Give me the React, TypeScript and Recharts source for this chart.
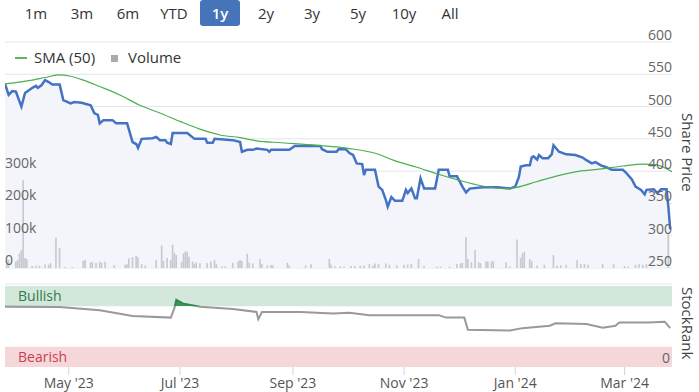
import React from "react";
import {
  ComposedChart,
  Area,
  Line,
  Bar,
  XAxis,
  YAxis,
  CartesianGrid,
  ReferenceArea,
  ReferenceLine,
  Label,
} from "recharts";

const ranges = ["1m", "3m", "6m", "YTD", "1y", "2y", "3y", "5y", "10y", "All"];
const activeRange = "1y";

const startDate = "2023-03-27";
const endDate = "2024-03-27";

const priceDates = [
  "2023-03-27", "2023-03-29", "2023-03-31", "2023-04-02", "2023-04-05", "2023-04-07", "2023-04-11", "2023-04-13",
  "2023-04-14", "2023-04-16", "2023-04-18", "2023-04-20", "2023-04-22", "2023-04-26", "2023-04-28", "2023-05-02",
  "2023-05-04", "2023-05-08", "2023-05-13", "2023-05-15", "2023-05-17", "2023-05-18", "2023-05-20", "2023-05-25",
  "2023-05-27", "2023-06-02", "2023-06-05", "2023-06-07", "2023-06-08", "2023-06-10", "2023-06-16", "2023-06-18",
  "2023-06-20", "2023-06-23", "2023-06-24", "2023-06-26", "2023-06-27", "2023-07-05", "2023-07-09", "2023-07-15",
  "2023-07-16", "2023-07-19", "2023-07-20", "2023-07-30", "2023-08-03", "2023-08-04", "2023-08-07", "2023-08-10",
  "2023-08-12", "2023-08-18", "2023-08-19", "2023-08-20", "2023-08-30", "2023-09-02", "2023-09-16", "2023-09-17",
  "2023-09-20", "2023-09-25", "2023-09-26", "2023-09-30", "2023-10-02", "2023-10-04", "2023-10-06", "2023-10-09",
  "2023-10-10", "2023-10-11", "2023-10-16", "2023-10-18", "2023-10-20", "2023-10-22", "2023-10-23", "2023-10-25",
  "2023-10-27", "2023-10-31", "2023-11-02", "2023-11-03", "2023-11-05", "2023-11-07", "2023-11-08", "2023-11-10",
  "2023-11-12", "2023-11-18", "2023-11-20", "2023-11-25", "2023-11-26", "2023-11-30", "2023-12-03", "2023-12-05",
  "2023-12-07", "2023-12-14", "2023-12-22", "2023-12-29", "2024-01-01", "2024-01-03", "2024-01-04", "2024-01-07",
  "2024-01-09", "2024-01-10", "2024-01-11", "2024-01-13", "2024-01-14", "2024-01-16", "2024-01-19", "2024-01-21",
  "2024-01-22", "2024-01-25", "2024-01-29", "2024-02-03", "2024-02-07", "2024-02-09", "2024-02-12", "2024-02-14",
  "2024-02-17", "2024-02-20", "2024-02-23", "2024-02-29", "2024-03-02", "2024-03-05", "2024-03-07", "2024-03-10",
  "2024-03-12", "2024-03-13", "2024-03-17", "2024-03-19", "2024-03-21", "2024-03-24", "2024-03-25", "2024-03-26",
];
const priceValues = [
  535, 518, 524, 523, 500, 521, 529, 532,
  529, 533, 541, 538, 534, 534, 510, 505,
  507, 506, 502, 490, 487, 474, 479, 479,
  474, 474, 445, 442, 436, 450, 451, 453,
  448, 448, 444, 442, 459, 459, 450, 450,
  444, 444, 450, 448, 445, 430, 433, 433,
  435, 433, 430, 433, 433, 439, 439, 434,
  430, 430, 434, 434, 428, 425, 412, 411,
  394, 402, 402, 376, 371, 355, 345, 360,
  354, 354, 371, 366, 373, 358, 358, 389,
  373, 373, 402, 402, 392, 392, 376, 367,
  373, 375, 375, 373, 376, 391, 407, 409,
  409, 421, 423, 418, 425, 420, 420, 426,
  440, 430, 426, 425, 421, 417, 412, 414,
  409, 406, 402, 402, 397, 387, 376, 371,
  364, 371, 372, 366, 372, 372, 345, 310,
];

const smaDates = [
  "2023-03-27", "2023-04-11", "2023-04-18", "2023-04-25", "2023-05-02", "2023-05-09", "2023-05-18", "2023-05-29",
  "2023-06-09", "2023-06-20", "2023-07-01", "2023-07-12", "2023-07-23", "2023-08-03", "2023-08-12", "2023-08-26",
  "2023-09-14", "2023-10-02", "2023-10-17", "2023-10-26", "2023-11-08", "2023-11-19", "2023-12-01", "2023-12-14",
  "2023-12-27", "2024-01-02", "2024-01-13", "2024-01-23", "2024-02-03", "2024-02-16", "2024-02-29", "2024-03-11",
  "2024-03-18", "2024-03-27",
];
const smaValues = [
  535, 541, 545, 549, 547, 541, 531, 518,
  502, 490, 477, 465, 456, 452, 447, 444,
  440, 435, 427, 417, 406, 396, 386, 377,
  373, 375, 384, 392, 399, 403, 408, 411,
  410, 399,
];

const volumeDates = [
  "2023-03-28", "2023-03-29", "2023-04-02", "2023-04-03", "2023-04-04", "2023-04-05", "2023-04-06", "2023-04-07",
  "2023-04-08", "2023-04-11", "2023-04-13", "2023-04-15", "2023-04-18", "2023-04-20", "2023-04-21", "2023-04-24",
  "2023-04-26", "2023-04-29", "2023-05-03", "2023-05-09", "2023-05-10", "2023-05-13", "2023-05-14", "2023-05-16",
  "2023-05-18", "2023-05-19", "2023-05-21", "2023-05-26", "2023-06-01", "2023-06-02", "2023-06-03", "2023-06-05",
  "2023-06-07", "2023-06-08", "2023-06-10", "2023-06-12", "2023-06-18", "2023-06-21", "2023-06-22", "2023-06-24",
  "2023-06-26", "2023-06-27", "2023-06-28", "2023-06-29", "2023-07-02", "2023-07-03", "2023-07-04", "2023-07-05",
  "2023-07-06", "2023-07-08", "2023-07-09", "2023-07-10", "2023-07-12", "2023-07-16", "2023-07-18", "2023-07-20",
  "2023-07-21", "2023-07-24", "2023-07-26", "2023-07-30", "2023-08-02", "2023-08-03", "2023-08-04", "2023-08-07",
  "2023-08-08", "2023-08-10", "2023-08-14", "2023-08-15", "2023-08-18", "2023-08-20", "2023-08-21", "2023-08-29",
  "2023-08-30", "2023-09-08", "2023-09-11", "2023-09-21", "2023-09-22", "2023-09-24", "2023-09-27", "2023-09-29",
  "2023-10-03", "2023-10-05", "2023-10-08", "2023-10-10", "2023-10-13", "2023-10-15", "2023-10-16", "2023-10-18",
  "2023-10-22", "2023-10-24", "2023-10-28", "2023-11-01", "2023-11-03", "2023-11-05", "2023-11-09", "2023-11-12",
  "2023-11-19", "2023-11-21", "2023-11-26", "2023-11-30", "2023-12-02", "2023-12-03", "2023-12-05", "2023-12-06",
  "2023-12-08", "2023-12-10", "2023-12-12", "2023-12-13", "2023-12-16", "2023-12-17", "2023-12-19", "2023-12-20",
  "2023-12-27", "2023-12-29", "2024-01-02", "2024-01-04", "2024-01-05", "2024-01-06", "2024-01-09", "2024-01-10",
  "2024-01-13", "2024-01-17", "2024-01-22", "2024-01-24", "2024-01-26", "2024-01-29", "2024-02-04", "2024-02-06",
  "2024-02-08", "2024-02-10", "2024-02-18", "2024-02-24", "2024-03-01", "2024-03-03", "2024-03-07", "2024-03-09",
  "2024-03-11", "2024-03-13", "2024-03-25",
];
const volumeValues = [
  22000, 25000, 20000, 25000, 45000, 56000, 272000, 31000,
  28000, 6000, 7000, 7000, 12000, 10000, 15000, 94000,
  62000, 3000, 3000, 22000, 25000, 18000, 18000, 16000,
  19000, 17000, 19000, 9000, 10000, 12000, 30000, 34000,
  37000, 33000, 12000, 8000, 25000, 70000, 22000, 31000,
  25000, 72000, 47000, 40000, 19000, 45000, 51000, 50000,
  35000, 20000, 12000, 17000, 15000, 15000, 20000, 25000,
  12000, 5000, 5000, 16000, 20000, 25000, 22000, 44000,
  16000, 14000, 28000, 12000, 8000, 9000, 8000, 16000,
  8000, 8000, 12000, 28000, 10000, 5000, 5000, 4000,
  6000, 6000, 7000, 8000, 12000, 8000, 14000, 12000,
  14000, 10000, 8000, 10000, 11000, 12000, 28000, 6000,
  4000, 4000, 4000, 12000, 14000, 16000, 95000, 28000,
  18000, 56000, 18000, 15000, 20000, 20000, 20000, 22000,
  18000, 5000, 88000, 31000, 45000, 50000, 28000, 22000,
  8000, 10000, 40000, 8000, 8000, 10000, 24000, 12000,
  12000, 10000, 12000, 12000, 6000, 5000, 10000, 12000,
  10000, 12000, 105000,
];

const rankDates = [
  "2023-03-27", "2023-04-26", "2023-05-18", "2023-06-05", "2023-06-26", "2023-06-28", "2023-06-29", "2023-07-03",
  "2023-07-12", "2023-07-30", "2023-08-12", "2023-08-13", "2023-08-15", "2023-09-05", "2023-09-23", "2023-10-02",
  "2023-10-13", "2023-10-29", "2023-11-20", "2023-11-24", "2023-12-04", "2023-12-06", "2023-12-29", "2024-01-05",
  "2024-01-20", "2024-01-23", "2024-02-09", "2024-02-18", "2024-02-25", "2024-02-27", "2024-03-14", "2024-03-23",
  "2024-03-26",
];
const rankValues = [
  74.4, 74, 70, 63, 61, 73, 83, 78,
  74.4, 71.6, 68, 59, 68, 68, 66, 67,
  64, 64, 64, 61, 61, 46, 45, 48,
  51, 54, 53, 48.5, 51, 55, 55, 56,
  48,
];

const priceTicks = [250, 300, 350, 400, 450, 500, 550, 600];
const volumeTicks = [0, 100000, 200000, 300000];
const volumeTickLabels = ["0", "100k", "200k", "300k"];
const xTickDates = ["2023-05-01", "2023-07-01", "2023-09-01", "2023-11-01", "2024-01-01", "2024-03-01"];
const xTickLabels = ["May '23", "Jul '23", "Sep '23", "Nov '23", "Jan '24", "Mar '24"];
const bullishLevel = 75;
const bearishLevel = 25;

const ts = (d: string) => Date.parse(d + "T00:00:00Z");
const xDomain = [ts(startDate), ts(endDate)];
const xTicks = xTickDates.map(ts);

type Row = { t: number; price?: number; sma?: number; vol?: number };
const rowMap = new Map<string, Row>();
const getRow = (d: string) => {
  let r = rowMap.get(d);
  if (!r) {
    r = { t: ts(d) };
    rowMap.set(d, r);
  }
  return r;
};
priceDates.forEach((d, i) => (getRow(d).price = priceValues[i]));
smaDates.forEach((d, i) => (getRow(d).sma = smaValues[i]));
volumeDates.forEach((d, i) => (getRow(d).vol = volumeValues[i]));
const mainRows = Array.from(rowMap.values()).sort((a, b) => a.t - b.t);

const rankRows = rankDates.map((d, i) => ({ t: ts(d), rank: rankValues[i] }));
const rankMax = Math.max(...rankValues);
const rankMin = Math.min(...rankValues);
const bullOffset = Math.max(0, Math.min(1, (rankMax - bullishLevel) / (rankMax - rankMin)));

const FONT = "'Open Sans', 'Noto Sans', sans-serif";

// plot edges of the charts (used to anchor axis labels)
const PLOT_LEFT = 5;
const PLOT_RIGHT = 672;

const PriceTick = (p: any) => (
  <text x={PLOT_RIGHT} y={p.y - 2} textAnchor="end" fill="#666" fontSize={14}>
    {p.payload.value}
  </text>
);
const VolTick = (p: any) => (
  <text x={PLOT_LEFT} y={p.y - 3} textAnchor="start" fill="#666" fontSize={14}>
    {volumeTickLabels[volumeTicks.indexOf(p.payload.value)]}
  </text>
);
const RankTick = (p: any) => (
  <text x={PLOT_RIGHT - 2} y={p.y - 4} textAnchor="end" fill="#666" fontSize={14}>
    {p.payload.value}
  </text>
);

export default function App() {
  return (
    <div
      style={{
        position: "absolute",
        left: 0,
        top: 0,
        width: 699,
        height: 392,
        background: "#fff",
        fontFamily: FONT,
        overflow: "hidden",
      }}
    >
      <div style={{ position: "absolute", left: 13, top: 0, display: "flex" }}>
        {ranges.map((r) => (
          <div key={r} style={{ width: 46, height: 26, display: "flex", justifyContent: "center" }}>
            <div
              style={{
                width: 40,
                height: 26,
                lineHeight: "26px",
                textAlign: "center",
                borderRadius: 3,
                background: r === activeRange ? "#4574b9" : "transparent",
                color: r === activeRange ? "#fff" : "#333",
                fontSize: 15,
                fontWeight: r === activeRange ? 600 : 400,
              }}
            >
              {r}
            </div>
          </div>
        ))}
      </div>

      <div style={{ position: "absolute", left: 0, top: 0 }}>
        <ComposedChart
          width={699}
          height={275}
          data={mainRows}
          margin={{ top: 42, right: 27, bottom: 7, left: 5 }}
        >
          <XAxis dataKey="t" type="number" domain={xDomain} hide allowDataOverflow />
          <YAxis
            yAxisId="price"
            orientation="right"
            mirror
            width={20}
            domain={[250, 600]}
            ticks={priceTicks}
            interval={0}
            tickSize={0}
            tickMargin={0}
            axisLine={false}
            tickLine={false}
            tick={PriceTick}
            allowDataOverflow
          />
          <YAxis
            yAxisId="vol"
            orientation="left"
            mirror
            width={20}
            domain={[0, 700000]}
            ticks={volumeTicks}
            interval={0}
            tickSize={0}
            tickMargin={0}
            axisLine={false}
            tickLine={false}
            tick={VolTick}
            allowDataOverflow
          />
          <CartesianGrid yAxisId="price" vertical={false} stroke="#e4e5ea" />
          <Area
            yAxisId="price"
            dataKey="price"
            type="linear"
            stroke="none"
            fill="#f3f5fa"
            fillOpacity={1}
            connectNulls
            isAnimationActive={false}
          />
          <Bar yAxisId="vol" dataKey="vol" fill="#c7c9d1" barSize={2} isAnimationActive={false} />
          <Line
            yAxisId="price"
            dataKey="price"
            type="linear"
            stroke="#4472c4"
            strokeWidth={2.5}
            dot={false}
            connectNulls
            isAnimationActive={false}
          />
          <Line
            yAxisId="price"
            dataKey="sma"
            type="monotone"
            stroke="#4caf50"
            strokeWidth={1.2}
            dot={false}
            connectNulls
            isAnimationActive={false}
          />
        </ComposedChart>
      </div>

      <div style={{ position: "absolute", left: 15, top: 57, width: 12, height: 2, background: "#5cb85c" }} />
      <div style={{ position: "absolute", left: 34, top: 47, fontSize: 15, lineHeight: "20px", color: "#333" }}>
        SMA (50)
      </div>
      <div style={{ position: "absolute", left: 111, top: 55, width: 7, height: 7, background: "#aaaaaa" }} />
      <div style={{ position: "absolute", left: 128, top: 47, fontSize: 15, lineHeight: "20px", color: "#333" }}>
        Volume
      </div>

      <div style={{ position: "absolute", left: 0, top: 270 }}>
        <ComposedChart
          width={699}
          height={122}
          data={rankRows}
          margin={{ top: 14, right: 27, bottom: 0, left: 5 }}
        >
          <defs>
            <linearGradient id="rankStroke" x1="0" y1="0" x2="0" y2="1">
              <stop offset={0} stopColor="#2e8b4e" />
              <stop offset={bullOffset} stopColor="#2e8b4e" />
              <stop offset={bullOffset} stopColor="#999999" />
              <stop offset={1} stopColor="#999999" />
            </linearGradient>
            <linearGradient id="rankFill" x1="0" y1="0" x2="0" y2="1">
              <stop offset={0} stopColor="#2e8b4e" stopOpacity={0.9} />
              <stop offset={bullOffset} stopColor="#2e8b4e" stopOpacity={0.9} />
              <stop offset={bullOffset} stopColor="#2e8b4e" stopOpacity={0} />
              <stop offset={1} stopColor="#2e8b4e" stopOpacity={0} />
            </linearGradient>
          </defs>
          <XAxis
            dataKey="t"
            type="number"
            domain={xDomain}
            ticks={xTicks}
            interval={0}
            tickFormatter={(v: number) => xTickLabels[xTicks.indexOf(v)]}
            axisLine={false}
            tickSize={8}
            tickMargin={3}
            tickLine={{ stroke: "#d0d3d8" }}
            tick={{ fill: "#555", fontSize: 14 }}
            height={25}
            allowDataOverflow
          />
          <YAxis
            orientation="right"
            mirror
            width={20}
            domain={[0, 102.5]}
            ticks={[0]}
            interval={0}
            tickSize={0}
            tickMargin={0}
            axisLine={false}
            tickLine={false}
            tick={RankTick}
            allowDataOverflow
          />
          <ReferenceLine y={102.5} stroke="#e4e5ea" ifOverflow="extendDomain" />
          <ReferenceArea y1={bullishLevel} y2={100} fill="#d3e8db" fillOpacity={1} stroke="none">
            <Label value="Bullish" position="insideLeft" offset={13} fill="#2e7d4a" fontSize={14} />
          </ReferenceArea>
          <ReferenceArea y1={0} y2={bearishLevel} fill="#f5d7da" fillOpacity={1} stroke="none">
            <Label value="Bearish" position="insideLeft" offset={13} fill="#cc3e52" fontSize={14} />
          </ReferenceArea>
          <Area
            dataKey="rank"
            type="linear"
            baseValue={bullishLevel}
            stroke="none"
            fill="url(#rankFill)"
            fillOpacity={1}
            isAnimationActive={false}
          />
          <Line
            dataKey="rank"
            type="linear"
            stroke="url(#rankStroke)"
            strokeWidth={2}
            dot={false}
            isAnimationActive={false}
          />
        </ComposedChart>
      </div>

      <div
        style={{
          position: "absolute",
          left: 679,
          top: 113,
          writingMode: "vertical-rl",
          fontSize: 15,
          lineHeight: "18px",
          color: "#444",
        }}
      >
        Share Price
      </div>
      <div
        style={{
          position: "absolute",
          left: 679,
          top: 287,
          writingMode: "vertical-rl",
          fontSize: 15,
          lineHeight: "18px",
          color: "#444",
        }}
      >
        StockRank
      </div>
    </div>
  );
}
